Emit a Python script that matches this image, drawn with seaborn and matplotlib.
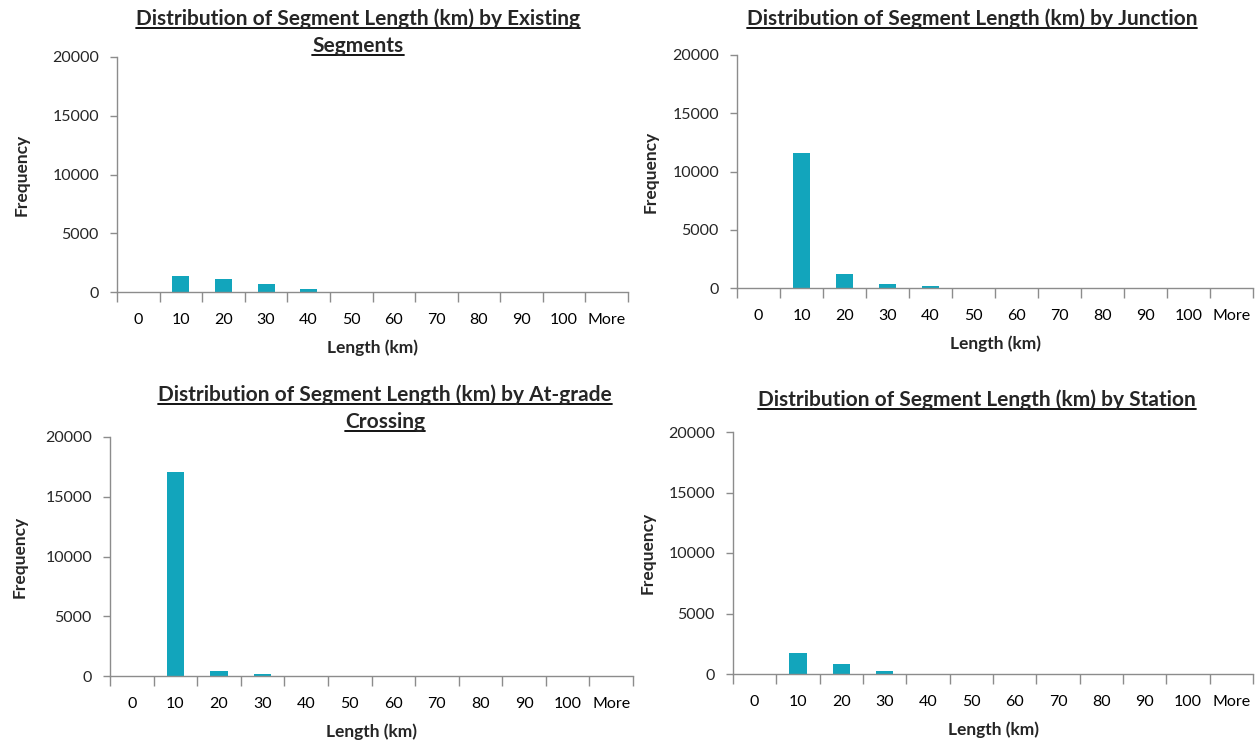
import matplotlib
matplotlib.use("Agg")
import matplotlib.pyplot as plt
from matplotlib.lines import Line2D
from matplotlib.ticker import FixedLocator, MultipleLocator
import numpy as np
import pandas as pd
import seaborn as sns

# bins (Excel histogram style)
categories = ["0", "10", "20", "30", "40", "50", "60", "70", "80", "90", "100", "More"]

# frequencies
existing = [0, 1360, 1100, 680, 250, 0, 0, 0, 0, 0, 0, 0]
junction = [0, 11550, 1180, 320, 150, 0, 0, 0, 0, 0, 0, 0]
atgrade = [0, 17050, 390, 150, 0, 0, 0, 0, 0, 0, 0, 0]
station = [0, 1710, 800, 250, 0, 0, 0, 0, 0, 0, 0, 0]

titles = [
    ["Distribution of Segment Length (km) by Existing", "Segments"],
    ["Distribution of Segment Length (km) by Junction"],
    ["Distribution of Segment Length (km) by At-grade", "Crossing"],
    ["Distribution of Segment Length (km) by Station"],
]
series = [existing, junction, atgrade, station]

sns.set_theme(style="white")
plt.rcParams["font.family"] = ["Lato", "DejaVu Sans"]

W, H = 1260, 740
bar_color = "#12A5BC"
axis_gray = "#8C8C8C"

# axes boxes in pixels: left, top, right, bottom
boxes = [
    (117, 57, 628, 292),
    (737, 55, 1253, 288),
    (110, 437, 633, 676),
    (733, 432, 1253, 674),
]
# title line centres (pixel y)
title_y = [[19, 46], [19], [395, 422], [400]]
title_x = [358, 972, 385, 977]
ylabel_x = [22, 651, 20, 648]

fig = plt.figure(figsize=(W / 100, H / 100), dpi=100)
title_texts = []

for i, counts in enumerate(series):
    l, t, r, b = boxes[i]
    ax = fig.add_axes([l / W, 1 - b / H, (r - l) / W, (b - t) / H])
    df = pd.DataFrame({"bin": categories, "freq": counts})
    sns.barplot(data=df, x="bin", y="freq", order=categories, color=bar_color,
                saturation=1, width=0.4, ax=ax, linewidth=0)
    ax.set_xlim(-0.5, len(categories) - 0.5)
    ax.set_ylim(0, 20000)
    ax.yaxis.set_major_locator(MultipleLocator(5000))
    ax.xaxis.set_minor_locator(FixedLocator(np.arange(-0.5, len(categories), 1.0)))
    ax.tick_params(bottom=True, left=True, which="both")
    ax.tick_params(axis="x", which="major", length=0, pad=15, labelsize=11.5, colors="black")
    ax.tick_params(axis="x", which="minor", length=7, direction="out", color=axis_gray, width=1)
    ax.tick_params(axis="y", which="major", length=5, direction="out", color=axis_gray,
                   width=1, labelsize=11.5, pad=8)
    for s in ["top", "right"]:
        ax.spines[s].set_visible(False)
    for s in ["left", "bottom"]:
        ax.spines[s].set_color(axis_gray)
        ax.spines[s].set_linewidth(1)
    ax.set_xlabel("Length (km)", fontsize=12.5, fontweight="bold", labelpad=9)
    ax.set_ylabel("")
    fig.text(ylabel_x[i] / W, 1 - ((t + b) / 2) / H, "Frequency", rotation=90,
             fontsize=12.5, fontweight="bold", ha="center", va="center")
    for line, ty in zip(titles[i], title_y[i]):
        tt = fig.text(title_x[i] / W, 1 - ty / H, line, fontsize=15, fontweight="bold",
                      ha="center", va="center")
        title_texts.append(tt)

# underline titles
fig.canvas.draw()
renderer = fig.canvas.get_renderer()
for tt in title_texts:
    bb = tt.get_window_extent(renderer).transformed(fig.transFigure.inverted())
    fig.add_artist(Line2D([bb.x0, bb.x1], [bb.y0 + 1.0 / H, bb.y0 + 1.0 / H],
                          transform=fig.transFigure, color="black", linewidth=1.3))

fig.savefig("out.png", dpi=100)
